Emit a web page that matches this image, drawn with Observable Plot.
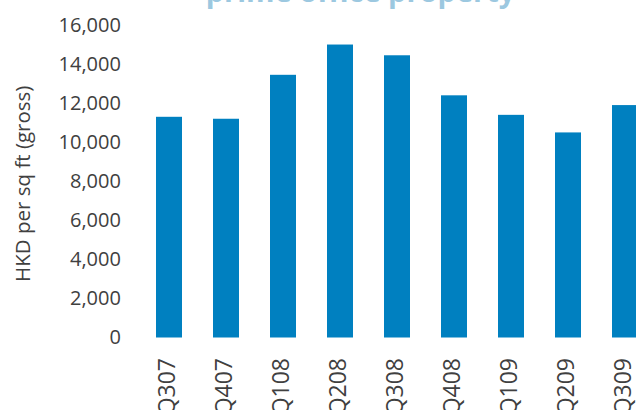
<!DOCTYPE html>
<html>
<head>
<meta charset="utf-8">
<script src="https://cdn.jsdelivr.net/npm/d3@7"></script>
<script src="https://cdn.jsdelivr.net/npm/@observablehq/plot@0.6"></script>
<style>
  html, body { margin: 0; padding: 0; background: #fff; overflow: hidden; }
  #chart svg { display: block; }
</style>
</head>
<body>
<div id="chart"></div>
<script>
const quarters = ["Q307", "Q407", "Q108", "Q208", "Q308", "Q408", "Q109", "Q209", "Q309"];
const prices = [11300, 11200, 13450, 15000, 14450, 12400, 11400, 10500, 11900];
const yTicks = [0, 2000, 4000, 6000, 8000, 10000, 12000, 14000, 16000];
const yLabel = "HKD per sq ft (gross)";
const titleText = "prime office property";

const data = quarters.map((q, i) => ({q, v: prices[i]}));

const chart = Plot.plot({
  width: 636,
  height: 410,
  marginLeft: 139.4,
  marginRight: -18.65,
  marginTop: 25,
  marginBottom: 72.5,
  style: {fontFamily: "'Open Sans', sans-serif", fontSize: "20px", color: "#404040", overflow: "visible"},
  x: {domain: quarters, paddingInner: 0.546, paddingOuter: 0.273, label: null},
  y: {domain: [0, 16000], ticks: yTicks, label: null},
  marks: [
    Plot.barY(data, {x: "q", y: "v", fill: "#0080c0"}),
    Plot.axisY({ticks: yTicks, tickSize: 0, tickPadding: 19, fontSize: 20, fill: "#404040", label: null, tickFormat: d => d.toLocaleString("en-US")}),
    Plot.axisX({tickSize: 0, tickPadding: 20, tickRotate: -90, fontSize: 23, fill: "#404040", label: null, dx: -2}),
    Plot.text([yLabel], {frameAnchor: "left", textAnchor: "middle", dx: -116.4, dy: 2, rotate: -90, text: d => d, fontSize: 20.5, fill: "#404040"}),
    Plot.text([titleText], {frameAnchor: "top", dx: -37, dy: -24, lineAnchor: "bottom", text: d => d, fontSize: 29, fontWeight: "bold", fill: "#9cc8e0"})
  ]
});
document.getElementById("chart").appendChild(chart);
</script>
</body>
</html>
